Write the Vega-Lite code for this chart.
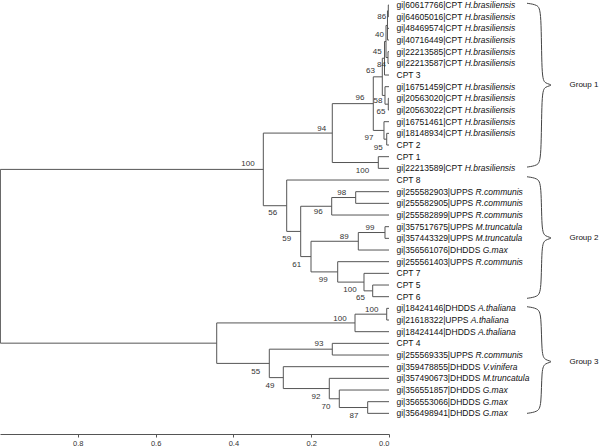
{
  "$schema": "https://vega.github.io/schema/vega-lite/v6.json",
  "width": 389,
  "height": 420,
  "autosize": "none",
  "padding": {"left": 0, "top": 0, "right": 211, "bottom": 27},
  "background": "white",
  "config": {"view": {"stroke": null}, "font": "Liberation Sans"},
  "datasets": {
    "nodes": [
      {"pos": 0, "d": 0, "pd": 0.0018, "num": "60617766", "gene": "CPT", "sp": "H.brasiliensis"},
      {"pos": 1, "d": 0, "pd": 0.0018, "num": "64605016", "gene": "CPT", "sp": "H.brasiliensis"},
      {"pos": 2, "d": 0, "pd": 0.0039, "num": "48469574", "gene": "CPT", "sp": "H.brasiliensis"},
      {"pos": 3, "d": 0, "pd": 0.0039, "num": "40716449", "gene": "CPT", "sp": "H.brasiliensis"},
      {"pos": 4, "d": 0, "pd": 0.0026, "num": "22213585", "gene": "CPT", "sp": "H.brasiliensis"},
      {"pos": 5, "d": 0, "pd": 0.0026, "num": "22213587", "gene": "CPT", "sp": "H.brasiliensis"},
      {"pos": 6, "d": 0, "pd": 0.0116, "name": "CPT 3"},
      {"pos": 7, "d": 0, "pd": 0.0103, "num": "16751459", "gene": "CPT", "sp": "H.brasiliensis"},
      {"pos": 8, "d": 0, "pd": 0.0018, "num": "20563020", "gene": "CPT", "sp": "H.brasiliensis"},
      {"pos": 9, "d": 0, "pd": 0.0018, "num": "20563022", "gene": "CPT", "sp": "H.brasiliensis"},
      {"pos": 10, "d": 0, "pd": 0.0129, "num": "16751461", "gene": "CPT", "sp": "H.brasiliensis"},
      {"pos": 11, "d": 0, "pd": 0.0059, "num": "18148934", "gene": "CPT", "sp": "H.brasiliensis"},
      {"pos": 12, "d": 0, "pd": 0.0059, "name": "CPT 2"},
      {"pos": 13, "d": 0, "pd": 0.0275, "name": "CPT 1"},
      {"pos": 14, "d": 0, "pd": 0.0275, "num": "22213589", "gene": "CPT", "sp": "H.brasiliensis"},
      {"pos": 15, "d": 0, "pd": 0.263, "name": "CPT 8"},
      {"pos": 16, "d": 0, "pd": 0.0856, "num": "255582903", "gene": "UPPS", "sp": "R.communis"},
      {"pos": 17, "d": 0, "pd": 0.0856, "num": "255582905", "gene": "UPPS", "sp": "R.communis"},
      {"pos": 18, "d": 0, "pd": 0.1473, "num": "255582899", "gene": "UPPS", "sp": "R.communis"},
      {"pos": 19, "d": 0, "pd": 0.0103, "num": "357517675", "gene": "UPPS", "sp": "M.truncatula"},
      {"pos": 20, "d": 0, "pd": 0.0103, "num": "357443329", "gene": "UPPS", "sp": "M.truncatula"},
      {"pos": 21, "d": 0, "pd": 0.0789, "num": "356561076", "gene": "DHDDS", "sp": "G.max"},
      {"pos": 22, "d": 0, "pd": 0.1319, "num": "255561403", "gene": "UPPS", "sp": "R.communis"},
      {"pos": 23, "d": 0, "pd": 0.0643, "name": "CPT 7"},
      {"pos": 24, "d": 0, "pd": 0.0419, "name": "CPT 5"},
      {"pos": 25, "d": 0, "pd": 0.0419, "name": "CPT 6"},
      {"pos": 26, "d": 0, "pd": 0.0059, "num": "18424146", "gene": "DHDDS", "sp": "A.thaliana"},
      {"pos": 27, "d": 0, "pd": 0.0059, "num": "21618322", "gene": "UPPS", "sp": "A.thaliana"},
      {"pos": 28, "d": 0, "pd": 0.0874, "num": "18424144", "gene": "DHDDS", "sp": "A.thaliana"},
      {"pos": 29, "d": 0, "pd": 0.1458, "name": "CPT 4"},
      {"pos": 30, "d": 0, "pd": 0.1458, "num": "255569335", "gene": "UPPS", "sp": "R.communis"},
      {"pos": 31, "d": 0, "pd": 0.2717, "num": "359478855", "gene": "DHDDS", "sp": "V.vinifera"},
      {"pos": 32, "d": 0, "pd": 0.1535, "num": "357490673", "gene": "DHDDS", "sp": "M.truncatula"},
      {"pos": 33, "d": 0, "pd": 0.1278, "num": "356551857", "gene": "DHDDS", "sp": "G.max"},
      {"pos": 34, "d": 0, "pd": 0.0548, "num": "356553066", "gene": "DHDDS", "sp": "G.max"},
      {"pos": 35, "d": 0, "pd": 0.0548, "num": "356498941", "gene": "DHDDS", "sp": "G.max"},
      {"d": 0.0018, "pos": 0.5, "pd": 0.0039, "lo": 0, "hi": 1},
      {"d": 0.0039, "pos": 1.75, "pd": 0.0077, "lo": 0.5, "hi": 3},
      {"d": 0.0026, "pos": 4.5, "pd": 0.0077, "lo": 4, "hi": 5},
      {"d": 0.0077, "pos": 3.125, "pd": 0.0116, "lo": 1.75, "hi": 4.5},
      {"d": 0.0116, "pos": 4.5625, "pd": 0.0172, "lo": 3.125, "hi": 6},
      {"d": 0.0018, "pos": 8.5, "pd": 0.0103, "lo": 8, "hi": 9},
      {"d": 0.0103, "pos": 7.75, "pd": 0.0172, "lo": 7, "hi": 8.5},
      {"d": 0.0172, "pos": 6.156, "pd": 0.0404, "lo": 4.5625, "hi": 7.75},
      {"d": 0.0059, "pos": 11.5, "pd": 0.0129, "lo": 11, "hi": 12},
      {"d": 0.0129, "pos": 10.75, "pd": 0.0404, "lo": 10, "hi": 11.5},
      {"d": 0.0404, "pos": 8.453, "pd": 0.1458, "lo": 6.156, "hi": 10.75},
      {"d": 0.0275, "pos": 13.5, "pd": 0.1458, "lo": 13, "hi": 14},
      {"d": 0.1458, "pos": 10.977, "pd": 0.3231, "lo": 8.453, "hi": 13.5},
      {"d": 0.0856, "pos": 16.5, "pd": 0.1473, "lo": 16, "hi": 17},
      {"d": 0.1473, "pos": 17.25, "pd": 0.227, "lo": 16.5, "hi": 18},
      {"d": 0.0103, "pos": 19.5, "pd": 0.0789, "lo": 19, "hi": 20},
      {"d": 0.0789, "pos": 20.25, "pd": 0.2005, "lo": 19.5, "hi": 21},
      {"d": 0.0419, "pos": 24.5, "pd": 0.0643, "lo": 24, "hi": 25},
      {"d": 0.0643, "pos": 23.75, "pd": 0.1319, "lo": 23, "hi": 24.5},
      {"d": 0.1319, "pos": 22.875, "pd": 0.2005, "lo": 22, "hi": 23.75},
      {"d": 0.2005, "pos": 21.5625, "pd": 0.227, "lo": 20.25, "hi": 22.875},
      {"d": 0.227, "pos": 19.406, "pd": 0.263, "lo": 17.25, "hi": 21.5625},
      {"d": 0.263, "pos": 17.203, "pd": 0.3231, "lo": 15, "hi": 19.406},
      {"d": 0.3231, "pos": 14.09, "pd": 0.999, "lo": 10.977, "hi": 17.203},
      {"d": 0.0059, "pos": 26.5, "pd": 0.0874, "lo": 26, "hi": 27},
      {"d": 0.0874, "pos": 27.25, "pd": 0.4429, "lo": 26.5, "hi": 28},
      {"d": 0.1458, "pos": 29.5, "pd": 0.3077, "lo": 29, "hi": 30},
      {"d": 0.0548, "pos": 34.5, "pd": 0.1278, "lo": 34, "hi": 35},
      {"d": 0.1278, "pos": 33.75, "pd": 0.1535, "lo": 33, "hi": 34.5},
      {"d": 0.1535, "pos": 32.875, "pd": 0.2717, "lo": 32, "hi": 33.75},
      {"d": 0.2717, "pos": 31.9375, "pd": 0.3077, "lo": 31, "hi": 32.875},
      {"d": 0.3077, "pos": 30.71875, "pd": 0.4429, "lo": 29.5, "hi": 31.9375},
      {"d": 0.4429, "pos": 28.984, "pd": 0.999, "lo": 27.25, "hi": 30.71875},
      {"d": 0.999, "pos": 21.54, "lo": 14.09, "hi": 28.984}
    ],
    "boot": [
      {"b": "86", "d": 0.0188, "pos": 1.054}, {"b": "40", "d": 0.0244, "pos": 2.529},
      {"b": "45", "d": 0.0301, "pos": 4.054}, {"b": "84", "d": 0.0193, "pos": 5.143},
      {"b": "63", "d": 0.0476, "pos": 5.657}, {"b": "96", "d": 0.0746, "pos": 7.997},
      {"b": "58", "d": 0.0283, "pos": 8.229}, {"b": "65", "d": 0.0206, "pos": 9.171},
      {"b": "94", "d": 0.173, "pos": 10.654}, {"b": "97", "d": 0.0514, "pos": 11.357},
      {"b": "95", "d": 0.0275, "pos": 12.257}, {"b": "100", "d": 0.0681, "pos": 14.186},
      {"b": "100", "d": 0.3625, "pos": 13.645}, {"b": "56", "d": 0.299, "pos": 17.83},
      {"b": "59", "d": 0.263, "pos": 20.057}, {"b": "61", "d": 0.2373, "pos": 22.26},
      {"b": "99", "d": 0.1689, "pos": 23.57}, {"b": "100", "d": 0.1003, "pos": 24.43},
      {"b": "65", "d": 0.0733, "pos": 25.11}, {"b": "96", "d": 0.1817, "pos": 17.74},
      {"b": "98", "d": 0.1216, "pos": 16.11}, {"b": "99", "d": 0.0488, "pos": 19.11},
      {"b": "89", "d": 0.1149, "pos": 19.91}, {"b": "100", "d": 0.0445, "pos": 26.14},
      {"b": "100", "d": 0.126, "pos": 26.91}, {"b": "93", "d": 0.18, "pos": 29.08},
      {"b": "55", "d": 0.3427, "pos": 31.43}, {"b": "49", "d": 0.3059, "pos": 32.63},
      {"b": "92", "d": 0.1877, "pos": 33.57}, {"b": "70", "d": 0.162, "pos": 34.43},
      {"b": "87", "d": 0.09, "pos": 35.23}
    ],
    "brace": [
      {"g": 1, "k": 0, "d": -0.3548, "pos": -0.15}, {"g": 1, "k": 1, "d": -0.3817, "pos": -0.02},
      {"g": 1, "k": 2, "d": -0.392, "pos": 0.45}, {"g": 1, "k": 3, "d": -0.392, "pos": 6.26},
      {"g": 1, "k": 4, "d": -0.401, "pos": 6.73}, {"g": 1, "k": 5, "d": -0.4242, "pos": 6.86},
      {"g": 1, "k": 6, "d": -0.401, "pos": 6.99}, {"g": 1, "k": 7, "d": -0.392, "pos": 7.46},
      {"g": 1, "k": 8, "d": -0.392, "pos": 13.29}, {"g": 1, "k": 9, "d": -0.3817, "pos": 13.76},
      {"g": 1, "k": 10, "d": -0.3548, "pos": 13.89},
      {"g": 2, "k": 0, "d": -0.3548, "pos": 14.72}, {"g": 2, "k": 1, "d": -0.3817, "pos": 14.85},
      {"g": 2, "k": 2, "d": -0.392, "pos": 15.32}, {"g": 2, "k": 3, "d": -0.392, "pos": 19.37},
      {"g": 2, "k": 4, "d": -0.401, "pos": 19.84}, {"g": 2, "k": 5, "d": -0.4242, "pos": 19.97},
      {"g": 2, "k": 6, "d": -0.401, "pos": 20.1}, {"g": 2, "k": 7, "d": -0.392, "pos": 20.57},
      {"g": 2, "k": 8, "d": -0.392, "pos": 24.54}, {"g": 2, "k": 9, "d": -0.3817, "pos": 25.01},
      {"g": 2, "k": 10, "d": -0.3548, "pos": 25.14},
      {"g": 3, "k": 0, "d": -0.3548, "pos": 25.86}, {"g": 3, "k": 1, "d": -0.3817, "pos": 25.99},
      {"g": 3, "k": 2, "d": -0.392, "pos": 26.46}, {"g": 3, "k": 3, "d": -0.392, "pos": 29.97},
      {"g": 3, "k": 4, "d": -0.401, "pos": 30.44}, {"g": 3, "k": 5, "d": -0.4242, "pos": 30.57},
      {"g": 3, "k": 6, "d": -0.401, "pos": 30.7}, {"g": 3, "k": 7, "d": -0.392, "pos": 31.17},
      {"g": 3, "k": 8, "d": -0.392, "pos": 34.4}, {"g": 3, "k": 9, "d": -0.3817, "pos": 34.87},
      {"g": 3, "k": 10, "d": -0.3548, "pos": 35.0}
    ],
    "groups": [
      {"t": "Group 1", "d": -0.464, "pos": 6.86},
      {"t": "Group 2", "d": -0.464, "pos": 19.97},
      {"t": "Group 3", "d": -0.464, "pos": 30.57}
    ]
  },
  "layer": [
    {
      "data": {"name": "nodes"},
      "transform": [{"filter": "isValid(datum.pd)"}],
      "mark": {"type": "rule", "color": "#555", "strokeWidth": 1},
      "encoding": {
        "x": {"field": "d", "type": "quantitative", "title": null,
              "scale": {"domain": [0, 1], "reverse": true, "nice": false, "zero": false},
              "axis": {"values": [0.8, 0.6, 0.4, 0.2, 0.0], "format": ".1f", "grid": false, "offset": 14,
                       "domainColor": "#555", "tickColor": "#555", "tickSize": 3, "labelFontSize": 7.5,
                       "labelColor": "#333", "labelPadding": 2, "labelFont": "Liberation Sans"}},
        "x2": {"field": "pd"},
        "y": {"field": "pos", "type": "quantitative", "title": null,
              "scale": {"domain": [-0.43, 35.57], "reverse": true, "nice": false, "zero": false},
              "axis": null}
      }
    },
    {
      "data": {"name": "nodes"},
      "transform": [{"filter": "isValid(datum.lo)"}],
      "mark": {"type": "rule", "color": "#555", "strokeWidth": 1},
      "encoding": {
        "x": {"field": "d", "type": "quantitative", "title": null},
        "y": {"field": "lo", "type": "quantitative", "title": null},
        "y2": {"field": "hi"}
      }
    },
    {
      "data": {"name": "nodes"},
      "transform": [
        {"filter": "isValid(datum.name) || isValid(datum.num)"},
        {"calculate": "isValid(datum.num) ? 'gi|' + datum.num + '|' + datum.gene : datum.name", "as": "label"}
      ],
      "mark": {"type": "text", "align": "left", "baseline": "middle", "dx": 7.5, "fontSize": 8.5, "font": "Liberation Sans", "color": "#111"},
      "encoding": {
        "x": {"field": "d", "type": "quantitative", "title": null},
        "y": {"field": "pos", "type": "quantitative", "title": null},
        "text": {"field": "label"}
      }
    },
    {
      "data": {"name": "nodes"},
      "transform": [
        {"filter": "isValid(datum.sp)"},
        {"calculate": "0.778 + 0.52 + 0.556 * length(datum.num) + (datum.gene == 'CPT' ? 2.0 : datum.gene == 'UPPS' ? 2.723 : 3.555) + 0.278", "as": "w"},
        {"calculate": "-(7.5 + datum.w * 8.5) / 389", "as": "spd"}
      ],
      "mark": {"type": "text", "align": "left", "baseline": "middle", "fontSize": 8.5, "fontStyle": "italic", "font": "Liberation Sans", "color": "#111"},
      "encoding": {
        "x": {"field": "spd", "type": "quantitative", "title": null},
        "y": {"field": "pos", "type": "quantitative", "title": null},
        "text": {"field": "sp"}
      }
    },
    {
      "data": {"name": "boot"},
      "mark": {"type": "text", "align": "center", "baseline": "middle", "fontSize": 8, "font": "Liberation Sans", "color": "#333"},
      "encoding": {
        "x": {"field": "d", "type": "quantitative", "title": null},
        "y": {"field": "pos", "type": "quantitative", "title": null},
        "text": {"field": "b"}
      }
    },
    {
      "data": {"name": "brace"},
      "mark": {"type": "line", "color": "#444", "strokeWidth": 1, "interpolate": "basis"},
      "encoding": {
        "x": {"field": "d", "type": "quantitative", "title": null},
        "y": {"field": "pos", "type": "quantitative", "title": null},
        "detail": {"field": "g"},
        "order": {"field": "k"}
      }
    },
    {
      "data": {"name": "groups"},
      "mark": {"type": "text", "align": "left", "baseline": "middle", "fontSize": 8, "font": "Liberation Sans", "color": "#111"},
      "encoding": {
        "x": {"field": "d", "type": "quantitative", "title": null},
        "y": {"field": "pos", "type": "quantitative", "title": null},
        "text": {"field": "t"}
      }
    }
  ]
}
